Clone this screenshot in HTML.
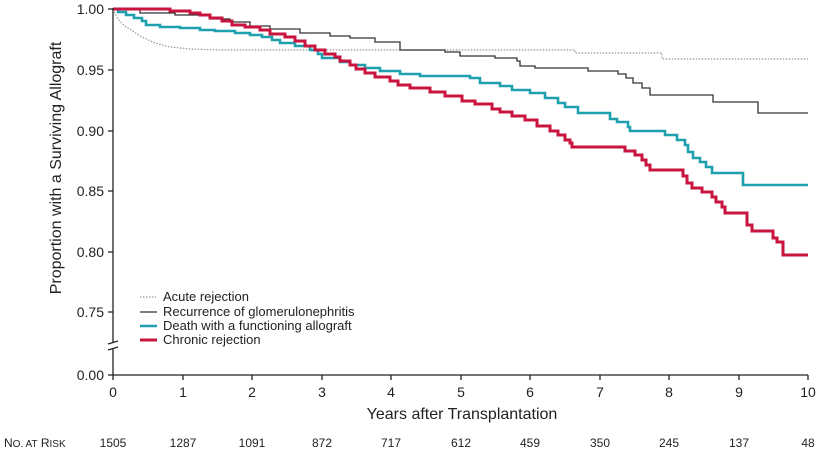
<!DOCTYPE html>
<html><head><meta charset="utf-8"><style>
body{margin:0;background:#fff;}
svg{display:block;font-family:"Liberation Sans",sans-serif;}
</style></head><body>
<svg width="820" height="450" viewBox="0 0 820 450" xmlns="http://www.w3.org/2000/svg">
<g fill="none">
<path d="M113,9 Q118,22 128,28 L140,36 L155,43 L170,47 L190,49 L220,50 H575 V53 H662 V59 H808" stroke="#999" stroke-width="1.2" stroke-dasharray="1.5,1.5"/>
<path d="M113,9 H140 V13 H175 V15 H210 V19 H230 V22 H250 V26 H270 V29 H300 V33 H330 V36 H350 V38 H375 V42 H400 V50 H445 V52 H460 V56 H495 V58 H517 V61 H520 V66 H535 V68 H588 V71 H618 V74 H626 V78 H633 V83 H642 V88 H650 V95 H713 V102 H758 V113 H808" stroke="#333" stroke-width="1.3"/>
<path d="M113,9 H118 V12 H126 V15 H134 V18 H142 V21 H146 V25 H160 V27 H180 V28 H200 V30 H215 V31 H235 V33 H250 V35 H262 V37 H272 V40 H280 V43 H295 V46 H310 V50 H318 V54 H322 V58 H340 V62 H350 V65 H365 V68 H380 V71 H400 V74 H420 V76 H470 V78 H480 V83 H500 V86 H512 V90 H530 V93 H545 V98 H558 V103 H565 V107 H578 V113 H610 V119 H617 V122 H628 V127 H630 V131 H665 V135 H677 V140 H685 V145 H688 V152 H693 V158 H700 V162 H706 V167 H712 V173 H743 V185 H808" stroke="#1fa0ae" stroke-width="2.6"/>
<path d="M113,9 H170 V11 H190 V13 H200 V15 H210 V18 H222 V21 H232 V25 H245 V27 H260 V30 H270 V34 H285 V37 H295 V41 H305 V46 H315 V50 H325 V54 H335 V57 H340 V61 H350 V65 H356 V69 H365 V73 H375 V77 H390 V81 H398 V85 H410 V88 H430 V92 H445 V96 H462 V101 H475 V104 H492 V109 H500 V112 H512 V116 H525 V120 H537 V126 H550 V131 H558 V135 H565 V140 H570 V143 H572 V147 H625 V151 H635 V155 H642 V160 H646 V165 H650 V170 H683 V176 H687 V183 H692 V188 H702 V192 H712 V197 H716 V202 H722 V207 H725 V213 H747 V225 H752 V231 H773 V238 H777 V242 H783 V255 H808" stroke="#c8143f" stroke-width="3"/>
</g>
<g stroke="#222" stroke-width="1.3" fill="none">
<path d="M113,8 V342 M113,349 V375 H808"/>
<path d="M108,344 L118,341 M108,350 L118,347" />
<path d="M108,9 H113 M108,70 H113 M108,131 H113 M108,191 H113 M108,252 H113 M108,312 H113 M108,375 H113"/>
<path d="M113,375 V380 M183,375 V380 M252,375 V380 M322,375 V380 M391,375 V380 M461,375 V380 M530,375 V380 M600,375 V380 M669,375 V380 M739,375 V380 M808,375 V380"/>
</g>
<g font-size="14" fill="#222" text-anchor="end">
<text x="104" y="14">1.00</text><text x="104" y="75">0.95</text><text x="104" y="136">0.90</text>
<text x="104" y="196">0.85</text><text x="104" y="257">0.80</text><text x="104" y="317">0.75</text>
<text x="104" y="380">0.00</text>
</g>
<g font-size="14" fill="#222" text-anchor="middle">
<text x="113" y="397">0</text><text x="183" y="397">1</text><text x="252" y="397">2</text><text x="322" y="397">3</text>
<text x="391" y="397">4</text><text x="461" y="397">5</text><text x="530" y="397">6</text><text x="600" y="397">7</text>
<text x="669" y="397">8</text><text x="739" y="397">9</text><text x="808" y="397">10</text>
</g>
<text x="462" y="419" font-size="16" text-anchor="middle" fill="#222">Years after Transplantation</text>
<text transform="translate(61,168) rotate(-90)" font-size="16" text-anchor="middle" fill="#222">Proportion with a Surviving Allograft</text>
<text x="4" y="447" font-size="12" fill="#222">N<tspan font-size="10">O. AT</tspan> R<tspan font-size="10">ISK</tspan></text>
<g font-size="12" fill="#222" text-anchor="middle">
<text x="113" y="447">1505</text><text x="183" y="447">1287</text><text x="252" y="447">1091</text><text x="322" y="447">872</text>
<text x="391" y="447">717</text><text x="461" y="447">612</text><text x="530" y="447">459</text><text x="600" y="447">350</text>
<text x="669" y="447">245</text><text x="739" y="447">137</text><text x="808" y="447">48</text>
</g>
<g>
<line x1="140" y1="297" x2="156" y2="297" stroke="#999" stroke-width="1.2" stroke-dasharray="1.5,1.5"/>
<line x1="140" y1="312" x2="157" y2="312" stroke="#333" stroke-width="1.3"/>
<line x1="140" y1="326" x2="157" y2="326" stroke="#1fa0ae" stroke-width="2.6"/>
<line x1="140" y1="340" x2="157" y2="340" stroke="#c8143f" stroke-width="3"/>
<g font-size="13" fill="#222">
<text x="163" y="301">Acute rejection</text>
<text x="163" y="316">Recurrence of glomerulonephritis</text>
<text x="163" y="330">Death with a functioning allograft</text>
<text x="163" y="344">Chronic rejection</text>
</g>
</g>
</svg>
</body></html>
